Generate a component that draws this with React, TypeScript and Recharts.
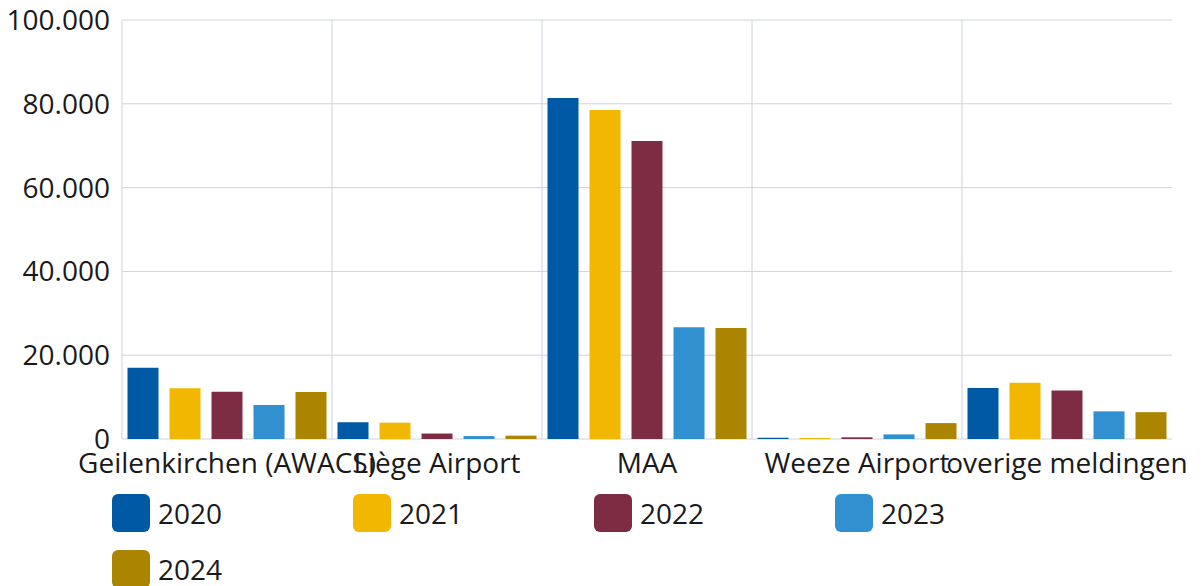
import { BarChart, Bar, XAxis, YAxis, CartesianGrid, Legend } from "recharts";

const locations = [
  "Geilenkirchen (AWACS)",
  "Liège Airport",
  "MAA",
  "Weeze Airport",
  "overige meldingen",
];

const years = ["2020", "2021", "2022", "2023", "2024"];
const colors = ["#0059a4", "#f2b700", "#7e2c43", "#3190cf", "#ac8500"];

const v2020 = [17000, 4000, 81400, 300, 12200];
const v2021 = [12100, 3900, 78500, 250, 13400];
const v2022 = [11300, 1300, 71100, 400, 11600];
const v2023 = [8100, 700, 26700, 1100, 6600];
const v2024 = [11200, 800, 26500, 3800, 6400];

const yTicks = [0, 20000, 40000, 60000, 80000, 100000];

const seriesValues = [v2020, v2021, v2022, v2023, v2024];

const data = locations.map((name, i) => {
  const row: Record<string, string | number> = { name };
  years.forEach((y, s) => {
    row[y] = seriesValues[s][i];
  });
  return row;
});

const font = "'Open Sans', 'Noto Sans', sans-serif";
const gridColor = "#ccd3de";

const fmt = (v: number) => String(v).replace(/\B(?=(\d{3})+(?!\d))/g, ".");

function YearLegend() {
  return (
    <div
      style={{
        display: "flex",
        flexWrap: "wrap",
        paddingLeft: 112,
        paddingTop: 8,
        rowGap: 18,
        height: 100,
        boxSizing: "border-box",
        fontFamily: font,
      }}
    >
      {years.map((y, i) => (
        <div key={y} style={{ width: 241, display: "flex", alignItems: "center", height: 38 }}>
          <span
            style={{
              width: 38,
              height: 38,
              borderRadius: 6,
              background: colors[i],
              display: "inline-block",
            }}
          />
          <span style={{ marginLeft: 8, fontSize: 28, color: "#1a1a1a" }}>{y}</span>
        </div>
      ))}
    </div>
  );
}

export default function App() {
  return (
    <div style={{ position: "absolute", left: 0, top: 0, width: 1202, height: 586, overflow: "hidden", background: "#fff" }}>
      <BarChart
        width={1202}
        height={586}
        data={data}
        margin={{ top: 20, right: 30, left: 0, bottom: 0 }}
        barCategoryGap={5.5}
        barGap={11}
      >
        <CartesianGrid
          stroke={gridColor}
          horizontal
          vertical
          verticalCoordinatesGenerator={({ offset }: any) =>
            [1, 2, 3, 4].map((i) => offset.left + (i * offset.width) / locations.length)
          }
        />
        <XAxis
          dataKey="name"
          interval={0}
          tickLine={false}
          axisLine={false}
          tickMargin={8}
          height={47}
          tick={{ fontSize: 28, fill: "#1a1a1a", fontFamily: font }}
        />
        <YAxis
          width={122}
          domain={[0, 100000]}
          ticks={yTicks}
          tickFormatter={fmt}
          tickLine={false}
          axisLine={{ stroke: gridColor }}
          tickMargin={6}
          tick={{ fontSize: 28, fill: "#1a1a1a", fontFamily: font }}
        />
        <Legend
          verticalAlign="bottom"
          content={() => <YearLegend />}
          wrapperStyle={{ left: 0, width: 1202 }}
        />
        {years.map((y, i) => (
          <Bar key={y} dataKey={y} fill={colors[i]} isAnimationActive={false} />
        ))}
      </BarChart>
    </div>
  );
}
